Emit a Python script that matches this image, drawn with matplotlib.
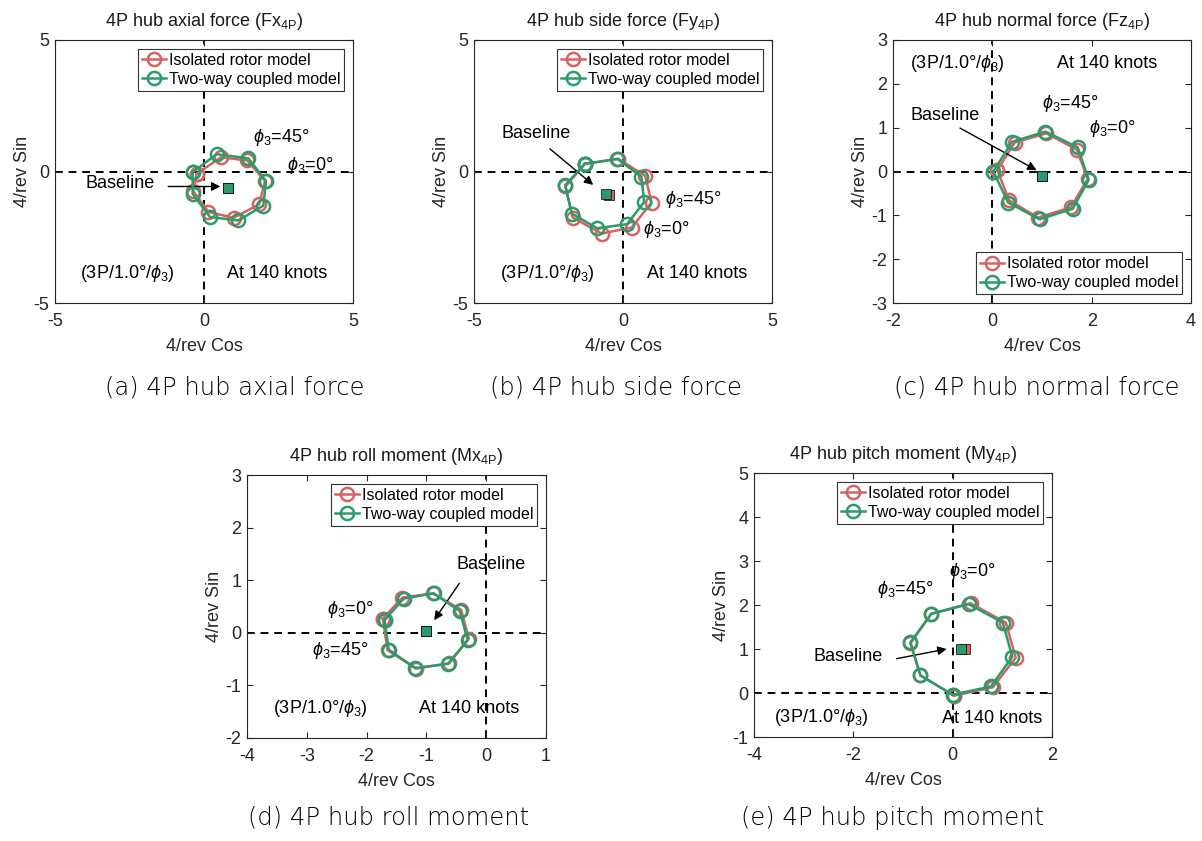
import matplotlib
matplotlib.use('Agg')
import matplotlib.pyplot as plt

plt.rcParams['font.family'] = ['Liberation Sans', 'DejaVu Sans']
plt.rcParams['mathtext.fontset'] = 'custom'
plt.rcParams['mathtext.rm'] = 'Liberation Sans'
plt.rcParams['mathtext.it'] = 'Liberation Sans:italic'
plt.rcParams['mathtext.bf'] = 'Liberation Sans:bold'
plt.rcParams['axes.unicode_minus'] = False

RED = '#d66262'
GREEN = '#2b9b6b'

# 4/rev cos / sin components, phi_3 = 0, 45, ..., 315 deg
# (a) Fx
fx_iso_cos = [-0.25, 0.57, 1.45, 2.05, 1.85, 0.99, 0.15, -0.36]
fx_iso_sin = [-0.09, 0.54, 0.42, -0.36, -1.25, -1.76, -1.54, -0.75]
fx_cpl_cos = [-0.38, 0.42, 1.49, 2.08, 1.99, 1.15, 0.20, -0.38]
fx_cpl_sin = [-0.03, 0.66, 0.50, -0.37, -1.30, -1.86, -1.73, -0.85]
fx_base_iso = (0.79, -0.63)
fx_base_cpl = (0.79, -0.63)

# (b) Fy
fy_iso_cos = [-1.28, -0.16, 0.74, 0.96, 0.29, -0.72, -1.69, -1.93]
fy_iso_sin = [0.29, 0.48, -0.16, -1.18, -2.13, -2.36, -1.75, -0.57]
fy_cpl_cos = [-1.28, -0.19, 0.62, 0.71, 0.14, -0.87, -1.72, -1.94]
fy_cpl_sin = [0.29, 0.48, -0.20, -1.16, -2.00, -2.16, -1.60, -0.52]
fy_base_iso = (-0.47, -0.88)
fy_base_cpl = (-0.58, -0.86)

# (c) Fz
fz_iso_cos = [0.10, 0.45, 1.09, 1.70, 1.92, 1.58, 0.92, 0.34]
fz_iso_sin = [0.03, 0.66, 0.87, 0.50, -0.17, -0.82, -1.05, -0.66]
fz_cpl_cos = [0.02, 0.40, 1.07, 1.72, 1.94, 1.62, 0.95, 0.32]
fz_cpl_sin = [0.00, 0.68, 0.91, 0.55, -0.19, -0.85, -1.09, -0.71]
fz_base_iso = (0.99, -0.10)
fz_base_cpl = (0.99, -0.10)

# (d) Mx
mx_iso_cos = [-1.73, -1.40, -0.89, -0.42, -0.29, -0.62, -1.17, -1.65]
mx_iso_sin = [0.27, 0.67, 0.75, 0.44, -0.11, -0.58, -0.68, -0.33]
mx_cpl_cos = [-1.70, -1.38, -0.88, -0.44, -0.31, -0.64, -1.19, -1.63]
mx_cpl_sin = [0.24, 0.65, 0.75, 0.41, -0.14, -0.59, -0.67, -0.32]
mx_base_iso = (-1.00, 0.04)
mx_base_cpl = (-1.00, 0.04)

# (e) My
my_iso_cos = [0.03, -0.65, -0.85, -0.43, 0.36, 1.07, 1.27, 0.81]
my_iso_sin = [-0.06, 0.40, 1.13, 1.80, 2.04, 1.60, 0.80, 0.13]
my_cpl_cos = [0.00, -0.65, -0.85, -0.43, 0.32, 1.01, 1.20, 0.77]
my_cpl_sin = [-0.04, 0.40, 1.15, 1.80, 2.02, 1.60, 0.82, 0.15]
my_base_iso = (0.24, 0.99)
my_base_cpl = (0.17, 0.99)

titles = ['4P hub axial force (Fx$_\\mathregular{4P}$)',
          '4P hub side force (Fy$_\\mathregular{4P}$)',
          '4P hub normal force (Fz$_\\mathregular{4P}$)',
          '4P hub roll moment (Mx$_\\mathregular{4P}$)',
          '4P hub pitch moment (My$_\\mathregular{4P}$)']
captions = ['(a) 4P hub axial force', '(b) 4P hub side force',
            '(c) 4P hub normal force', '(d) 4P hub roll moment',
            '(e) 4P hub pitch moment']
PHI0 = '$\\phi_3$=0\u00b0'
PHI45 = '$\\phi_3$=45\u00b0'
CASE = '(3P/1.0\u00b0/$\\phi_3$)'
SPEED = 'At 140 knots'


def closed(v):
    return list(v) + [v[0]]


def panel(ax, iso, cpl, b_iso, b_cpl, title, xlim, ylim, xt, yt, leg_loc,
          base_txt, arrow, phi0, phi45, case_xy, speed_xy):
    ax.axvline(0, color='k', ls=(0, (4, 3)), lw=1.4, zorder=1)
    ax.axhline(0, color='k', ls=(0, (4, 3)), lw=1.4, zorder=1)
    ax.plot(closed(iso[0]), closed(iso[1]), '-o', color=RED, lw=1.8,
            ms=9.5, mfc='none', mew=1.8, label='Isolated rotor model',
            zorder=3)
    ax.plot(closed(cpl[0]), closed(cpl[1]), '-o', color=GREEN, lw=1.8,
            ms=9.5, mfc='none', mew=1.8, label='Two-way coupled model',
            zorder=4)
    ax.plot(*b_iso, 's', color=RED, ms=7.5, mec='k', mew=0.5, zorder=5)
    ax.plot(*b_cpl, 's', color=GREEN, ms=7.5, mec='k', mew=0.5, zorder=6)
    ax.text(base_txt[0], base_txt[1], 'Baseline', fontsize=13,
            ha='center', va='center')
    ax.annotate('', xy=arrow[1], xytext=arrow[0],
                arrowprops=dict(arrowstyle='-|>', color='k', lw=1.0,
                                mutation_scale=13, shrinkA=0, shrinkB=0))
    ax.text(phi0[0], phi0[1], PHI0, fontsize=13, ha=phi0[2], va='center')
    ax.text(phi45[0], phi45[1], PHI45, fontsize=13, ha=phi45[2],
            va='center')
    ax.text(case_xy[0], case_xy[1], CASE, fontsize=13, ha='left',
            va='center')
    ax.text(speed_xy[0], speed_xy[1], SPEED, fontsize=13, ha='left',
            va='center')
    ax.set_xlim(xlim)
    ax.set_ylim(ylim)
    ax.set_xticks(xt)
    ax.set_yticks(yt)
    ax.tick_params(direction='in', top=True, right=True, length=4,
                   labelsize=13, width=0.8, colors='0.15')
    ax.tick_params(axis='x', pad=7)
    ax.tick_params(axis='y', pad=4)
    for s in ax.spines.values():
        s.set_linewidth(0.8)
        s.set_color('0.15')
    ax.set_xlabel('4/rev Cos', fontsize=13, color='0.15', labelpad=6)
    ax.set_ylabel('4/rev Sin', fontsize=13, color='0.15', labelpad=2)
    ax.set_title(title, fontsize=13, pad=10, color='0.1')
    leg = ax.legend(loc=leg_loc, fontsize=11.5, fancybox=False,
                    framealpha=1, edgecolor='0.2', borderpad=0.25,
                    labelspacing=0.25, handlelength=1.5,
                    handletextpad=0.2, borderaxespad=0.55)
    leg.get_frame().set_linewidth(0.8)


W, H = 1202, 841
fig = plt.figure(figsize=(W / 100, H / 100), dpi=100)


def add_axes(l, r, t, b):
    return fig.add_axes([l / W, 1 - b / H, (r - l) / W, (b - t) / H])


ax = add_axes(55, 353, 40, 303)
panel(ax, (fx_iso_cos, fx_iso_sin), (fx_cpl_cos, fx_cpl_sin), fx_base_iso,
      fx_base_cpl, titles[0], (-5, 5), (-5, 5), [-5, 0, 5], [-5, 0, 5],
      'upper right', (-2.82, -0.44), ((-1.2, -0.57), (0.55, -0.57)),
      (2.79, 0.23, 'left'), (1.65, 1.29, 'left'), (-4.16, -3.86),
      (0.77, -3.86))

ax = add_axes(474, 772, 40, 303)
panel(ax, (fy_iso_cos, fy_iso_sin), (fy_cpl_cos, fy_cpl_sin), fy_base_iso,
      fy_base_cpl, titles[1], (-5, 5), (-5, 5), [-5, 0, 5], [-5, 0, 5],
      'upper right', (-2.90, 1.46), ((-2.45, 0.86), (-1.0, -0.51)),
      (0.67, -2.22, 'left'), (1.41, -1.08, 'left'), (-4.13, -3.86),
      (0.80, -3.86))

ax = add_axes(893, 1191, 40, 303)
panel(ax, (fz_iso_cos, fz_iso_sin), (fz_cpl_cos, fz_cpl_sin), fz_base_iso,
      fz_base_cpl, titles[2], (-2, 4), (-3, 3), [-2, 0, 2, 4],
      [-3, -2, -1, 0, 1, 2, 3], 'lower right', (-0.95, 1.27),
      ((-0.65, 0.99), (0.89, 0.03)), (1.95, 0.99, 'left'),
      (1.01, 1.56, 'left'), (-1.66, 2.47), (1.31, 2.47))

ax = add_axes(247, 546, 475, 738)
panel(ax, (mx_iso_cos, mx_iso_sin), (mx_cpl_cos, mx_cpl_sin), mx_base_iso,
      mx_base_cpl, titles[3], (-4, 1), (-2, 3), [-4, -3, -2, -1, 0, 1],
      [-2, -1, 0, 1, 2, 3], 'upper right', (0.09, 1.29),
      ((-0.45, 0.94), (-0.87, 0.24)), (-1.88, 0.45, 'right'),
      (-1.97, -0.33, 'right'), (-3.57, -1.43), (-1.12, -1.43))

ax = add_axes(754, 1052, 473, 737)
panel(ax, (my_iso_cos, my_iso_sin), (my_cpl_cos, my_cpl_sin), my_base_iso,
      my_base_cpl, titles[4], (-4, 2), (-1, 5), [-4, -2, 0, 2],
      [-1, 0, 1, 2, 3, 4, 5], 'upper right', (-2.10, 0.83),
      ((-1.13, 0.78), (-0.12, 1.0)), (-0.07, 2.77, 'left'),
      (-1.53, 2.36, 'left'), (-3.60, -0.56), (-0.22, -0.58))

# sub-figure captions
cap_pos = [(235, 388), (616, 388), (1037, 388), (389, 818), (893, 818)]
for cap, (cx, cy) in zip(captions, cap_pos):
    fig.text(cx / W, 1 - cy / H, cap, fontsize=17.5, ha='center',
             va='center', family='DejaVu Sans', fontweight='light',
             color='k')

fig.savefig('out.png', dpi=100)
